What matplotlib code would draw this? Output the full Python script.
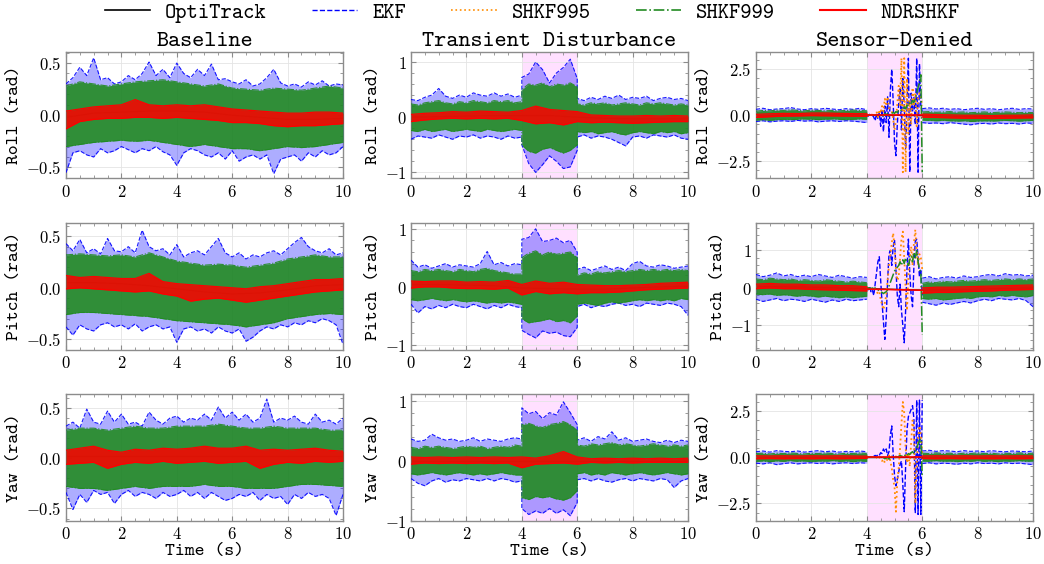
import numpy as np
import matplotlib
matplotlib.use('Agg')
import matplotlib.pyplot as plt
from matplotlib.lines import Line2D
from matplotlib.ticker import FuncFormatter, AutoMinorLocator, FixedLocator

plt.rcParams['mathtext.fontset'] = 'cm'
TT = 'cmtt10'

# ---------------- labels ----------------
col_titles = ['Baseline', 'Transient Disturbance', 'Sensor-Denied']
row_labels = ['Roll (rad)', 'Pitch (rad)', 'Yaw (rad)']
series_names = ['OptiTrack', 'EKF', 'SHKF995', 'SHKF999', 'NDRSHKF']
x_ticks = [0, 2, 4, 6, 8, 10]
event_window = [4, 6]

# ---------------- Baseline (envelopes) ----------------
# EKF envelope every 0.25 s (41), SHKF999 & NDRSHKF every 0.5 s (21), truth every 1 s (11)
br_ekf_hi = [0.30, 0.36, 0.46, 0.38, 0.55, 0.34, 0.36, 0.30, 0.32, 0.38, 0.34, 0.40,
             0.51, 0.38, 0.44, 0.36, 0.50, 0.40, 0.36, 0.44, 0.38, 0.49, 0.34, 0.35,
             0.32, 0.30, 0.34, 0.28, 0.30, 0.36, 0.44, 0.31, 0.28, 0.30, 0.27, 0.32,
             0.29, 0.33, 0.28, 0.30, 0.29]
br_ekf_lo = [-0.55, -0.36, -0.34, -0.38, -0.40, -0.32, -0.36, -0.34, -0.30, -0.33, -0.36, -0.32,
             -0.34, -0.30, -0.35, -0.38, -0.48, -0.36, -0.32, -0.34, -0.38, -0.40, -0.36, -0.42,
             -0.34, -0.44, -0.40, -0.38, -0.42, -0.38, -0.56, -0.42, -0.40, -0.38, -0.44, -0.36,
             -0.40, -0.34, -0.38, -0.36, -0.30]
br_999_hi = [0.28, 0.32, 0.30, 0.28, 0.30, 0.32, 0.33, 0.34, 0.32, 0.30, 0.28,
             0.30, 0.26, 0.25, 0.24, 0.26, 0.25, 0.24, 0.26, 0.28, 0.26]
br_999_lo = [-0.30, -0.28, -0.26, -0.25, -0.24, -0.25, -0.24, -0.26, -0.28, -0.30, -0.28,
             -0.30, -0.32, -0.32, -0.34, -0.32, -0.30, -0.31, -0.30, -0.28, -0.26]
br_nd_hi = [0.04, 0.06, 0.08, 0.09, 0.10, 0.15, 0.10, 0.09, 0.10, 0.09, 0.10,
            0.08, 0.06, 0.05, 0.04, 0.03, 0.02, 0.02, 0.03, 0.03, 0.02]
br_nd_lo = [-0.13, -0.06, -0.04, -0.03, -0.03, -0.02, -0.02, -0.03, -0.02, -0.03, -0.04,
            -0.05, -0.07, -0.07, -0.08, -0.10, -0.11, -0.10, -0.10, -0.09, -0.08]
br_truth = [-0.02, 0.02, 0.03, 0.04, 0.04, 0.03, 0.0, -0.02, -0.04, -0.04, -0.03]

bp_ekf_hi = [0.43, 0.36, 0.47, 0.34, 0.38, 0.33, 0.48, 0.36, 0.35, 0.40, 0.34, 0.56,
             0.40, 0.36, 0.38, 0.32, 0.42, 0.30, 0.34, 0.36, 0.32, 0.40, 0.48, 0.34,
             0.30, 0.34, 0.28, 0.32, 0.30, 0.34, 0.36, 0.32, 0.38, 0.44, 0.49, 0.40,
             0.36, 0.34, 0.38, 0.32, 0.34]
bp_ekf_lo = [-0.38, -0.46, -0.36, -0.40, -0.42, -0.36, -0.34, -0.38, -0.36, -0.40, -0.35, -0.42,
             -0.38, -0.36, -0.40, -0.38, -0.53, -0.40, -0.38, -0.42, -0.40, -0.44, -0.38, -0.42,
             -0.44, -0.40, -0.52, -0.48, -0.42, -0.38, -0.40, -0.36, -0.38, -0.34, -0.36, -0.32,
             -0.34, -0.30, -0.32, -0.36, -0.55]
bp_999_hi = [0.32, 0.33, 0.32, 0.31, 0.32, 0.30, 0.34, 0.30, 0.26, 0.24, 0.22,
             0.23, 0.22, 0.20, 0.22, 0.24, 0.28, 0.30, 0.32, 0.30, 0.30]
bp_999_lo = [-0.26, -0.24, -0.24, -0.25, -0.26, -0.27, -0.28, -0.30, -0.32, -0.33, -0.34,
             -0.35, -0.36, -0.38, -0.36, -0.34, -0.30, -0.28, -0.26, -0.25, -0.26]
bp_nd_hi = [0.12, 0.10, 0.11, 0.10, 0.09, 0.09, 0.14, 0.06, 0.04, 0.03, 0.02,
            0.01, 0.0, -0.01, 0.01, 0.02, 0.04, 0.06, 0.08, 0.08, 0.09]
bp_nd_lo = [-0.01, 0.0, -0.01, -0.02, -0.03, -0.04, -0.03, -0.06, -0.08, -0.13, -0.11,
            -0.10, -0.12, -0.14, -0.12, -0.10, -0.08, -0.06, -0.04, -0.03, -0.02]
bp_truth = [0.05, 0.05, 0.04, 0.02, -0.01, -0.04, -0.06, -0.05, -0.02, 0.02, 0.03]

by_ekf_hi = [0.32, 0.36, 0.30, 0.49, 0.36, 0.34, 0.47, 0.36, 0.44, 0.34, 0.36, 0.32,
             0.46, 0.38, 0.34, 0.40, 0.42, 0.36, 0.40, 0.38, 0.44, 0.38, 0.51, 0.40,
             0.46, 0.38, 0.44, 0.36, 0.40, 0.59, 0.36, 0.40, 0.38, 0.42, 0.36, 0.34,
             0.44, 0.36, 0.38, 0.34, 0.40]
by_ekf_lo = [-0.34, -0.51, -0.36, -0.44, -0.32, -0.36, -0.34, -0.45, -0.36, -0.32, -0.38, -0.34,
             -0.36, -0.40, -0.34, -0.38, -0.36, -0.32, -0.38, -0.34, -0.40, -0.34, -0.38, -0.42,
             -0.40, -0.36, -0.38, -0.34, -0.42, -0.36, -0.40, -0.38, -0.46, -0.36, -0.40, -0.34,
             -0.38, -0.36, -0.40, -0.57, -0.36]
by_999_hi = [0.28, 0.30, 0.30, 0.28, 0.30, 0.32, 0.30, 0.30, 0.32, 0.32, 0.32,
             0.34, 0.32, 0.30, 0.30, 0.32, 0.30, 0.30, 0.30, 0.28, 0.28]
by_999_lo = [-0.28, -0.30, -0.30, -0.32, -0.30, -0.28, -0.30, -0.28, -0.28, -0.28, -0.26,
             -0.28, -0.28, -0.30, -0.30, -0.30, -0.28, -0.26, -0.26, -0.27, -0.28]
by_nd_hi = [0.08, 0.10, 0.12, 0.08, 0.06, 0.09, 0.08, 0.10, 0.09, 0.10, 0.12,
            0.10, 0.10, 0.12, 0.08, 0.09, 0.08, 0.09, 0.10, 0.08, 0.07]
by_nd_lo = [-0.06, -0.05, -0.04, -0.10, -0.06, -0.04, -0.05, -0.03, -0.05, -0.04, -0.03,
            -0.05, -0.04, -0.03, -0.10, -0.06, -0.04, -0.05, -0.03, -0.04, -0.03]
by_truth = [0.02, 0.02, 0.02, 0.02, 0.02, 0.02, 0.02, 0.02, 0.02, 0.02, 0.02]

# ---------------- Transient disturbance ----------------
# EKF / SHKF999 envelopes: 0-4 s (17), 4-6 s (9), 6-10 s (17) every 0.25 s
tr_ekf_hi = [0.32, 0.30, 0.36, 0.40, 0.52, 0.38, 0.34, 0.40, 0.36, 0.44, 0.40, 0.38, 0.44, 0.38, 0.42, 0.36, 0.40,
             0.72, 0.78, 1.00, 0.86, 0.62, 0.80, 0.90, 1.05, 0.70,
             0.34, 0.30, 0.36, 0.32, 0.38, 0.34, 0.40, 0.32, 0.36, 0.34, 0.38, 0.30, 0.34, 0.36, 0.32, 0.34, 0.30]
tr_ekf_lo = [-0.40, -0.34, -0.36, -0.38, -0.32, -0.36, -0.40, -0.34, -0.36, -0.32, -0.38, -0.34, -0.36, -0.40, -0.34, -0.38, -0.36,
             -0.50, -0.84, -1.00, -0.86, -0.70, -0.80, -0.93, -0.90, -0.60,
             -0.36, -0.32, -0.38, -0.34, -0.36, -0.40, -0.46, -0.52, -0.36, -0.34, -0.38, -0.32, -0.34, -0.36, -0.32, -0.38, -0.40]
tr_999_hi = [0.24, 0.22, 0.26, 0.28, 0.30, 0.26, 0.24, 0.28, 0.26, 0.30, 0.28, 0.26, 0.30, 0.28, 0.30, 0.26, 0.28,
             0.50, 0.60, 0.58, 0.62, 0.55, 0.60, 0.58, 0.62, 0.55,
             0.24, 0.22, 0.26, 0.24, 0.26, 0.22, 0.24, 0.26, 0.24, 0.22, 0.26, 0.24, 0.26, 0.24, 0.22, 0.24, 0.22]
tr_999_lo = [-0.24, -0.26, -0.22, -0.26, -0.24, -0.22, -0.26, -0.24, -0.22, -0.24, -0.26, -0.22, -0.24, -0.26, -0.24, -0.22, -0.24,
             -0.50, -0.62, -0.65, -0.58, -0.55, -0.60, -0.65, -0.60, -0.50,
             -0.26, -0.28, -0.26, -0.30, -0.28, -0.26, -0.30, -0.32, -0.28, -0.26, -0.28, -0.30, -0.26, -0.28, -0.26, -0.30, -0.28]
tr_nd_hi = [0.05, 0.07, 0.08, 0.10, 0.09, 0.11, 0.10, 0.09, 0.12, 0.20, 0.14,
            0.12, 0.10, 0.04, 0.03, 0.02, 0.02, 0.03, 0.02, 0.03, 0.02]
tr_nd_lo = [-0.08, -0.05, -0.03, -0.02, -0.03, -0.02, -0.03, -0.02, -0.06, -0.12, -0.10,
            -0.14, -0.08, -0.10, -0.09, -0.10, -0.11, -0.10, -0.09, -0.08, -0.08]
tr_truth = [0.0, 0.01, 0.02, 0.03, 0.03, 0.03, 0.0, -0.02, -0.03, -0.03, -0.03]

tp_ekf_hi = [0.46, 0.34, 0.38, 0.32, 0.36, 0.40, 0.34, 0.38, 0.36, 0.34, 0.40, 0.61, 0.38, 0.42, 0.36, 0.40, 0.38,
             0.82, 0.85, 1.00, 0.78, 0.80, 0.84, 0.76, 0.80, 0.60,
             0.30, 0.34, 0.28, 0.32, 0.36, 0.30, 0.34, 0.28, 0.40, 0.44, 0.36, 0.34, 0.38, 0.36, 0.32, 0.34, 0.36]
tp_ekf_lo = [-0.30, -0.45, -0.34, -0.38, -0.32, -0.36, -0.30, -0.34, -0.36, -0.30, -0.34, -0.38, -0.32, -0.36, -0.30, -0.34, -0.36,
             -0.75, -0.82, -0.88, -0.76, -0.80, -0.78, -0.84, -0.86, -0.70,
             -0.34, -0.30, -0.36, -0.32, -0.34, -0.30, -0.28, -0.32, -0.30, -0.34, -0.28, -0.30, -0.32, -0.28, -0.30, -0.34, -0.49]
tp_999_hi = [0.28, 0.26, 0.30, 0.28, 0.30, 0.28, 0.26, 0.30, 0.28, 0.26, 0.30, 0.32, 0.28, 0.26, 0.24, 0.22, 0.22,
             0.50, 0.58, 0.62, 0.55, 0.60, 0.56, 0.58, 0.60, 0.50,
             0.20, 0.24, 0.22, 0.26, 0.24, 0.26, 0.28, 0.26, 0.28, 0.30, 0.28, 0.30, 0.28, 0.30, 0.28, 0.30, 0.28]
tp_999_lo = [-0.22, -0.24, -0.22, -0.20, -0.22, -0.24, -0.22, -0.24, -0.26, -0.24, -0.26, -0.28, -0.26, -0.28, -0.26, -0.28, -0.30,
             -0.55, -0.62, -0.60, -0.58, -0.55, -0.60, -0.58, -0.62, -0.50,
             -0.30, -0.28, -0.30, -0.32, -0.28, -0.26, -0.28, -0.26, -0.24, -0.22, -0.24, -0.22, -0.24, -0.22, -0.24, -0.20, -0.22]
tp_nd_hi = [0.10, 0.09, 0.10, 0.10, 0.08, 0.09, 0.08, 0.11, 0.04, 0.10, 0.06,
            0.08, 0.04, 0.03, 0.02, 0.02, 0.03, 0.04, 0.06, 0.07, 0.08]
tp_nd_lo = [-0.02, 0.0, 0.0, -0.02, -0.03, -0.03, -0.04, -0.02, -0.14, -0.08, -0.12,
            -0.10, -0.12, -0.10, -0.10, -0.09, -0.07, -0.05, -0.04, -0.03, -0.02]
tp_truth = [0.04, 0.04, 0.03, 0.02, -0.02, -0.03, -0.04, -0.04, -0.02, 0.0, 0.01]

ty_ekf_hi = [0.36, 0.32, 0.34, 0.44, 0.38, 0.34, 0.36, 0.32, 0.34, 0.38, 0.32, 0.36, 0.34, 0.32, 0.36, 0.38, 0.36,
             0.88, 0.78, 0.82, 0.70, 0.80, 0.76, 0.98, 0.80, 0.60,
             0.34, 0.38, 0.32, 0.40, 0.36, 0.48, 0.34, 0.38, 0.32, 0.34, 0.36, 0.32, 0.30, 0.34, 0.30, 0.34, 0.32]
ty_ekf_lo = [-0.30, -0.38, -0.42, -0.34, -0.30, -0.36, -0.32, -0.34, -0.30, -0.32, -0.34, -0.30, -0.34, -0.30, -0.32, -0.36, -0.34,
             -0.80, -0.90, -0.84, -0.88, -0.80, -0.88, -0.82, -0.92, -0.70,
             -0.32, -0.30, -0.34, -0.30, -0.34, -0.36, -0.32, -0.30, -0.34, -0.30, -0.32, -0.34, -0.30, -0.32, -0.45, -0.34, -0.30]
ty_999_hi = [0.22, 0.20, 0.24, 0.22, 0.24, 0.22, 0.20, 0.22, 0.24, 0.22, 0.24, 0.20, 0.22, 0.24, 0.22, 0.26, 0.24,
             0.60, 0.62, 0.58, 0.55, 0.60, 0.62, 0.65, 0.60, 0.50,
             0.26, 0.24, 0.28, 0.26, 0.28, 0.30, 0.26, 0.28, 0.26, 0.24, 0.26, 0.28, 0.26, 0.24, 0.26, 0.24, 0.26]
ty_999_lo = [-0.22, -0.24, -0.22, -0.20, -0.22, -0.24, -0.22, -0.20, -0.22, -0.24, -0.22, -0.24, -0.22, -0.20, -0.22, -0.24, -0.24,
             -0.62, -0.65, -0.60, -0.62, -0.60, -0.64, -0.66, -0.62, -0.50,
             -0.22, -0.20, -0.24, -0.22, -0.24, -0.20, -0.22, -0.24, -0.22, -0.20, -0.22, -0.24, -0.22, -0.20, -0.22, -0.24, -0.22]
ty_nd_hi = [0.06, 0.05, 0.06, 0.05, 0.06, 0.05, 0.06, 0.05, 0.06, 0.04, 0.08,
            0.15, 0.06, 0.03, 0.04, 0.03, 0.04, 0.03, 0.04, 0.03, 0.04]
ty_nd_lo = [-0.06, -0.04, -0.05, -0.04, -0.05, -0.04, -0.05, -0.04, -0.12, -0.06, -0.05,
            -0.04, -0.06, -0.03, -0.04, -0.03, -0.04, -0.03, -0.03, -0.03, -0.03]
ty_truth = [0.0, 0.0, 0.0, 0.0, 0.0, 0.0, 0.0, 0.0, 0.0, 0.0, 0.0]

# ---------------- Sensor-denied ----------------
# envelopes outside the outage: 0-4 s (17) + 6-10 s (17); NDRSHKF 0-4 (9) + 6-10 (9)
# trajectories inside the outage every 0.05 s from 4 to 6 s (41)
sr_ekf_hi = [0.32, 0.38, 0.30, 0.34, 0.36, 0.42, 0.34, 0.30, 0.36, 0.32, 0.38, 0.34, 0.30, 0.36, 0.32, 0.38, 0.30,
             0.36, 0.40, 0.34, 0.38, 0.32, 0.36, 0.30, 0.34, 0.38, 0.32, 0.36, 0.30, 0.34, 0.38, 0.32, 0.36, 0.34]
sr_ekf_lo = [-0.34, -0.30, -0.36, -0.32, -0.30, -0.34, -0.28, -0.32, -0.30, -0.36, -0.32, -0.30, -0.34, -0.30, -0.32, -0.36, -0.40,
             -0.40, -0.44, -0.42, -0.46, -0.40, -0.44, -0.48, -0.52, -0.46, -0.44, -0.48, -0.42, -0.46, -0.44, -0.48, -0.42, -0.44]
sr_999_hi = [0.22, 0.26, 0.24, 0.28, 0.26, 0.30, 0.26, 0.24, 0.28, 0.26, 0.24, 0.26, 0.24, 0.26, 0.28, 0.26, 0.24,
             0.18, 0.20, 0.16, 0.18, 0.20, 0.16, 0.18, 0.14, 0.16, 0.18, 0.14, 0.16, 0.18, 0.16, 0.14, 0.16, 0.14]
sr_999_lo = [-0.26, -0.24, -0.28, -0.24, -0.22, -0.24, -0.22, -0.20, -0.22, -0.24, -0.22, -0.20, -0.22, -0.24, -0.22, -0.20, -0.22,
             -0.26, -0.28, -0.30, -0.28, -0.30, -0.32, -0.30, -0.34, -0.32, -0.30, -0.32, -0.30, -0.28, -0.30, -0.32, -0.30, -0.28]
sr_nd_hi = [0.05, 0.08, 0.10, 0.09, 0.12, 0.12, 0.10, 0.09, 0.08,
            0.06, 0.04, 0.02, 0.0, 0.0, -0.02, 0.0, 0.0, 0.02]
sr_nd_lo = [-0.12, -0.08, -0.05, -0.04, -0.02, -0.03, -0.04, -0.05, -0.06,
            -0.10, -0.12, -0.14, -0.16, -0.16, -0.18, -0.16, -0.15, -0.14]
sr_truth = [-0.05, 0.0, 0.0, 0.05, 0.0, 0.0, -0.02, -0.05, -0.08, -0.08, -0.06]
sr_ekf_ev = [0.0, -0.05, 0.05, -0.05, 0.0, -0.1, -0.3, 0.1, -0.2, 0.15,
             -0.6, 0.3, -0.9, 0.5, -0.4, 1.0, -1.2, 1.4, 2.5, 0.8,
             -1.5, -2.2, -0.5, 0.6, 1.5, -0.8, 2.0, 0.5, -1.8, 0.4,
             3.1, -3.1, 1.2, 0.2, 1.0, -0.5, 3.1, -3.1, 2.8, 0.5, 0.2]
sr_995_ev = [0.0, 0.0, 0.05, 0.0, 0.05, 0.1, 0.0, 0.2, -0.1, 0.3,
             0.1, 0.5, 0.2, 0.9, 0.6, 1.0, 0.4, 0.3, 0.2, -0.2,
             -0.8, -0.3, 0.6, 1.6, 0.5, 3.1, -3.1, 3.1, -3.1, 2.0,
             -1.0, 0.8, -0.5, 1.5, 0.6, 1.2, -0.6, 0.9, 1.2, 1.0, 0.5]
sr_999_ev = [0.0, 0.0, 0.0, 0.0, 0.0, 0.0, 0.0, 0.0, 0.0, 0.0,
             0.0, 0.05, -0.05, 0.1, 0.0, 0.1, -0.05, 0.05, 0.1, 0.15,
             0.1, 0.2, 0.15, 0.25, 0.2, 0.3, 0.3, 0.45, 0.35, 0.55,
             0.5, 0.7, 0.6, 0.8, 0.7, 0.9, 1.2, 1.5, 1.8, 2.2, -3.1]
sr_nd_hold = [0.02, 0.02]

sp_ekf_hi = [0.36, 0.30, 0.34, 0.40, 0.32, 0.36, 0.30, 0.34, 0.30, 0.36, 0.32, 0.28, 0.34, 0.30, 0.26, 0.30, 0.28,
             0.26, 0.30, 0.24, 0.28, 0.30, 0.26, 0.32, 0.28, 0.30, 0.34, 0.36, 0.32, 0.38, 0.34, 0.36, 0.32, 0.34]
sp_ekf_lo = [-0.30, -0.36, -0.32, -0.28, -0.34, -0.30, -0.32, -0.36, -0.30, -0.34, -0.38, -0.32, -0.36, -0.30, -0.34, -0.32, -0.30,
             -0.38, -0.42, -0.46, -0.40, -0.44, -0.40, -0.36, -0.40, -0.34, -0.30, -0.34, -0.28, -0.30, -0.32, -0.28, -0.34, -0.50]
sp_999_hi = [0.24, 0.22, 0.26, 0.24, 0.22, 0.24, 0.20, 0.22, 0.20, 0.18, 0.22, 0.20, 0.18, 0.16, 0.18, 0.16, 0.14,
             0.12, 0.16, 0.14, 0.18, 0.16, 0.18, 0.20, 0.18, 0.20, 0.22, 0.20, 0.22, 0.24, 0.22, 0.24, 0.22, 0.24]
sp_999_lo = [-0.16, -0.18, -0.16, -0.20, -0.18, -0.20, -0.22, -0.20, -0.22, -0.24, -0.22, -0.24, -0.26, -0.24, -0.26, -0.24, -0.22,
             -0.28, -0.30, -0.28, -0.32, -0.30, -0.28, -0.26, -0.28, -0.24, -0.22, -0.24, -0.20, -0.22, -0.20, -0.22, -0.24, -0.20]
sp_nd_hi = [0.10, 0.12, 0.10, 0.10, 0.08, 0.08, 0.06, 0.06, 0.03,
            0.0, 0.02, 0.02, 0.03, 0.04, 0.05, 0.06, 0.07, 0.08]
sp_nd_lo = [-0.02, 0.0, -0.02, -0.02, -0.04, -0.05, -0.06, -0.07, -0.08,
            -0.14, -0.12, -0.12, -0.10, -0.09, -0.08, -0.06, -0.05, -0.04]
sp_truth = [0.04, 0.03, 0.02, 0.0, -0.02, -0.04, -0.06, -0.05, -0.03, -0.01, 0.0]
sp_ekf_ev = [0.0, -0.05, 0.05, -0.1, -0.05, -0.2, 0.1, 0.4, 0.7, 0.83,
             0.2, -0.4, -0.9, -1.37, -0.8, 0.2, 0.9, 1.0, 0.6, 1.1,
             1.28, 0.5, -0.2, -0.5, 0.1, -0.6, -1.0, -1.46, -0.6, 0.5,
             1.3, 0.4, -0.2, -0.5, 0.6, 1.24, 1.3, 0.8, 0.3, 0.5, -0.2]
sp_995_ev = [0.0, 0.0, -0.02, 0.0, -0.05, 0.0, -0.05, -0.1, -0.15, -0.1,
             -0.3, -0.45, -0.58, -0.4, -0.2, 0.2, 0.6, 0.9, 1.2, 1.46,
             1.1, 0.5, 0.2, 0.3, 0.8, 1.3, 1.5, 0.8, 0.0, -0.6,
             0.3, 0.8, 1.1, 0.6, 1.2, 1.55, 1.0, 0.6, 0.9, 0.8, 0.5]
sp_999_ev = [0.0, 0.0, 0.0, -0.02, 0.0, -0.02, 0.0, -0.03, -0.05, -0.08,
             -0.1, -0.12, -0.15, -0.12, -0.1, -0.05, 0.05, 0.15, 0.25, 0.35,
             0.45, 0.5, 0.55, 0.6, 0.7, 0.6, 0.75, 0.65, 0.8, 0.7,
             0.6, 0.75, 0.85, 0.7, 0.95, 0.8, 1.0, 0.7, 0.5, 0.4, -1.25]
sp_nd_hold = [-0.03, -0.06]

sy_ekf_hi = [0.30, 0.34, 0.28, 0.36, 0.32, 0.30, 0.34, 0.28, 0.32, 0.36, 0.30, 0.34, 0.28, 0.32, 0.30, 0.34, 0.30,
             0.34, 0.38, 0.32, 0.36, 0.34, 0.30, 0.36, 0.32, 0.34, 0.30, 0.36, 0.32, 0.30, 0.34, 0.32, 0.30, 0.34]
sy_ekf_lo = [-0.32, -0.36, -0.30, -0.40, -0.34, -0.30, -0.36, -0.32, -0.30, -0.34, -0.30, -0.36, -0.32, -0.30, -0.34, -0.30, -0.32,
             -0.34, -0.30, -0.36, -0.32, -0.34, -0.38, -0.32, -0.36, -0.30, -0.34, -0.32, -0.36, -0.30, -0.34, -0.32, -0.36, -0.40]
sy_999_hi = [0.20, 0.22, 0.18, 0.22, 0.20, 0.24, 0.20, 0.18, 0.22, 0.20, 0.24, 0.20, 0.18, 0.22, 0.20, 0.24, 0.20,
             0.22, 0.20, 0.24, 0.20, 0.22, 0.18, 0.22, 0.20, 0.24, 0.20, 0.22, 0.18, 0.22, 0.20, 0.24, 0.20, 0.22]
sy_999_lo = [-0.22, -0.20, -0.24, -0.20, -0.22, -0.18, -0.22, -0.20, -0.24, -0.20, -0.22, -0.18, -0.22, -0.20, -0.24, -0.20, -0.22,
             -0.20, -0.22, -0.18, -0.22, -0.20, -0.24, -0.20, -0.22, -0.18, -0.22, -0.20, -0.24, -0.20, -0.22, -0.18, -0.22, -0.20]
sy_nd_hi = [0.08, 0.07, 0.08, 0.07, 0.08, 0.07, 0.08, 0.07, 0.06,
            0.07, 0.08, 0.07, 0.08, 0.07, 0.08, 0.07, 0.08, 0.07]
sy_nd_lo = [-0.08, -0.07, -0.08, -0.07, -0.08, -0.07, -0.08, -0.07, -0.06,
            -0.07, -0.08, -0.07, -0.08, -0.07, -0.08, -0.07, -0.08, -0.07]
sy_truth = [0.0, 0.0, 0.0, 0.0, 0.0, 0.0, 0.0, 0.0, 0.0, 0.0, 0.0]
sy_ekf_ev = [0.0, 0.02, 0.0, 0.02, 0.0, 0.05, 0.1, 0.05, 0.15, 0.1,
             0.25, 0.2, 0.45, 0.3, 0.45, 0.1, 0.3, 1.2, 1.7, 0.2,
             -1.0, -1.55, -1.2, -0.8, -0.4, -0.2, -1.5, -2.95, -0.5, 1.5,
             2.2, 2.4, 2.6, 2.8, 2.1, -3.0, 3.1, -3.1, 3.1, -3.1, 3.1]
sy_995_ev = [0.0, 0.0, 0.02, 0.0, 0.02, 0.0, -0.05, 0.0, -0.1, 0.0,
             -0.1, -0.2, -0.1, -0.3, -0.2, -0.1, 0.1, -0.2, -0.6, -1.2,
             -1.6, -2.95, -1.3, -0.6, 0.5, 1.8, 3.0, 2.4, 0.5, -0.3,
             0.2, -0.5, 0.8, 2.0, 1.5, -2.5, -0.5, 1.0, 1.7, 1.2, 0.2]
sy_999_ev = [0.0, 0.0, 0.0, 0.0, 0.0, 0.0, 0.0, 0.0, 0.0, 0.0,
             0.0, -0.05, 0.0, -0.08, -0.05, 0.0, -0.1, -0.05, 0.05, 0.0,
             -0.05, 0.05, 0.0, 0.05, 0.1, 0.05, 0.1, 0.05, 0.15, 0.1,
             0.2, 0.15, 0.25, 0.3, 0.2, 0.35, 0.5, 0.7, 0.9, 1.0, -1.0]
sy_nd_hold = [0.0, 0.0]

# axis limits / ticks per panel (rows x cols)
ylims = [[(-0.606, 0.606), (-1.11, 1.18), (-3.44, 3.44)],
         [(-0.60, 0.63), (-1.08, 1.10), (-1.64, 1.73)],
         [(-0.62, 0.64), (-1.0, 1.11), (-3.43, 3.43)]]
yticks = [[[-0.5, 0.0, 0.5], [-1, 0, 1], [-2.5, 0.0, 2.5]],
          [[-0.5, 0.0, 0.5], [-1, 0, 1], [-1, 0, 1]],
          [[-0.5, 0.0, 0.5], [-1, 0, 1], [-2.5, 0.0, 2.5]]]
ydec = [[1, 0, 1], [1, 0, 0], [1, 0, 1]]

# ---------------- styling ----------------
C_TRUE, C_EKF, C_995, C_999, C_ND = 'black', 'blue', 'darkorange', 'forestgreen', 'red'
SPINE = '#8c8c8c'

t41 = np.linspace(0, 10, 41)
t21 = np.linspace(0, 10, 21)
t11 = np.linspace(0, 10, 11)
t43 = np.concatenate([np.linspace(0, 4, 17), np.linspace(4, 6, 9), np.linspace(6, 10, 17)])
tA17, tC17 = np.linspace(0, 4, 17), np.linspace(6, 10, 17)
tA9, tC9 = np.linspace(0, 4, 9), np.linspace(6, 10, 9)
t_ev = np.linspace(4, 6, 41)


def envelope(ax, t, lo, hi, color, alpha, z, ls, ealpha):
    ax.fill_between(t, lo, hi, color=color, alpha=alpha, lw=0, zorder=z)
    ax.plot(t, hi, color=color, lw=0.8, ls=ls, zorder=z, alpha=ealpha)
    ax.plot(t, lo, color=color, lw=0.8, ls=ls, zorder=z, alpha=ealpha)


def red_band(ax, t, lo, hi):
    ax.fill_between(t, lo, hi, color=C_ND, alpha=0.85, lw=0, zorder=6)
    ax.plot(t, hi, color=C_ND, lw=0.9, zorder=6)
    ax.plot(t, lo, color=C_ND, lw=0.9, zorder=6)


def dense_panel(ax, tt, ekf_hi, ekf_lo, t9, s_hi, s_lo, nd_hi, nd_lo, truth):
    ax.plot(t11, truth, color=C_TRUE, lw=1.0, zorder=2)
    envelope(ax, tt, ekf_lo, ekf_hi, C_EKF, 0.32, 3, '--', 0.9)
    envelope(ax, t9, s_lo, s_hi, C_999, 0.9, 4, '-.', 0.9)
    red_band(ax, t21, nd_lo, nd_hi)


def sd_panel(ax, ekf_hi, ekf_lo, s_hi, s_lo, nd_hi, nd_lo, truth, ekf_ev, k995_ev, k999_ev, hold):
    ax.plot(t11, truth, color=C_TRUE, lw=1.0, zorder=2)
    for sl, tt in ((slice(0, 17), tA17), (slice(17, 34), tC17)):
        envelope(ax, tt, ekf_lo[sl], ekf_hi[sl], C_EKF, 0.32, 3, '--', 0.9)
        envelope(ax, tt, s_lo[sl], s_hi[sl], C_999, 0.9, 4, '-.', 0.9)
    for sl, tt in ((slice(0, 9), tA9), (slice(9, 18), tC9)):
        red_band(ax, tt, nd_lo[sl], nd_hi[sl])
    ax.plot(t_ev, ekf_ev, color=C_EKF, ls='--', lw=1.0, zorder=3)
    ax.plot(t_ev, k995_ev, color=C_995, ls=':', lw=1.3, zorder=3.5)
    ax.plot(t_ev, k999_ev, color=C_999, ls='-.', lw=1.1, zorder=4)
    ax.plot(event_window, hold, color=C_ND, lw=1.2, zorder=6)


fig, axes = plt.subplots(3, 3, figsize=(10.44, 5.64), dpi=100)
fig.subplots_adjust(left=0.0632, right=0.9895, top=0.9078, bottom=0.0771,
                    wspace=0.2455, hspace=0.352)

dense_panel(axes[0, 0], t41, br_ekf_hi, br_ekf_lo, t21, br_999_hi, br_999_lo, br_nd_hi, br_nd_lo, br_truth)
dense_panel(axes[1, 0], t41, bp_ekf_hi, bp_ekf_lo, t21, bp_999_hi, bp_999_lo, bp_nd_hi, bp_nd_lo, bp_truth)
dense_panel(axes[2, 0], t41, by_ekf_hi, by_ekf_lo, t21, by_999_hi, by_999_lo, by_nd_hi, by_nd_lo, by_truth)
dense_panel(axes[0, 1], t43, tr_ekf_hi, tr_ekf_lo, t43, tr_999_hi, tr_999_lo, tr_nd_hi, tr_nd_lo, tr_truth)
dense_panel(axes[1, 1], t43, tp_ekf_hi, tp_ekf_lo, t43, tp_999_hi, tp_999_lo, tp_nd_hi, tp_nd_lo, tp_truth)
dense_panel(axes[2, 1], t43, ty_ekf_hi, ty_ekf_lo, t43, ty_999_hi, ty_999_lo, ty_nd_hi, ty_nd_lo, ty_truth)
sd_panel(axes[0, 2], sr_ekf_hi, sr_ekf_lo, sr_999_hi, sr_999_lo, sr_nd_hi, sr_nd_lo, sr_truth,
         sr_ekf_ev, sr_995_ev, sr_999_ev, sr_nd_hold)
sd_panel(axes[1, 2], sp_ekf_hi, sp_ekf_lo, sp_999_hi, sp_999_lo, sp_nd_hi, sp_nd_lo, sp_truth,
         sp_ekf_ev, sp_995_ev, sp_999_ev, sp_nd_hold)
sd_panel(axes[2, 2], sy_ekf_hi, sy_ekf_lo, sy_999_hi, sy_999_lo, sy_nd_hi, sy_nd_lo, sy_truth,
         sy_ekf_ev, sy_995_ev, sy_999_ev, sy_nd_hold)


def mfmt(dec):
    def f(v, pos):
        if abs(v) < 1e-12:
            v = 0.0
        return '$' + ('%.*f' % (dec, v)) + '$'
    return FuncFormatter(f)


for r in range(3):
    for c in range(3):
        ax = axes[r, c]
        if c > 0:
            ax.axvspan(event_window[0], event_window[1], color='magenta', alpha=0.12, lw=0, zorder=0)
        ax.set_xlim(0, 10)
        ax.set_ylim(*ylims[r][c])
        ax.xaxis.set_major_locator(FixedLocator(x_ticks))
        ax.yaxis.set_major_locator(FixedLocator(yticks[r][c]))
        ax.xaxis.set_minor_locator(AutoMinorLocator(4))
        ax.yaxis.set_minor_locator(AutoMinorLocator(5))
        ax.xaxis.set_major_formatter(mfmt(0))
        ax.yaxis.set_major_formatter(mfmt(ydec[r][c]))
        ax.grid(True, which='major', color='#e4e4e4', lw=0.6, zorder=0.5)
        ax.set_axisbelow(True)
        for s in ax.spines.values():
            s.set_color(SPINE)
            s.set_linewidth(1.0)
        ax.tick_params(which='both', direction='in', top=True, right=True, color=SPINE,
                       labelsize=12, pad=3)
        ax.tick_params(which='major', length=3.5, width=0.8)
        ax.tick_params(which='minor', length=2, width=0.6)
        ax.set_ylabel(row_labels[r], fontfamily=TT, fontsize=13.5, labelpad=3)
        if r == 0:
            ax.set_title(col_titles[c], fontfamily=TT, fontsize=16.6, pad=4)
        if r == 2:
            ax.set_xlabel('Time (s)', fontfamily=TT, fontsize=13.5, labelpad=1)

handles = [Line2D([], [], color=C_TRUE, lw=1.2),
           Line2D([], [], color=C_EKF, lw=1.0, ls='--'),
           Line2D([], [], color=C_995, lw=1.2, ls=':'),
           Line2D([], [], color=C_999, lw=1.2, ls='-.'),
           Line2D([], [], color=C_ND, lw=1.5)]
fig.legend(handles, series_names, loc='center', bbox_to_anchor=(0.51, 0.977), ncol=5,
           frameon=False, prop={'family': TT, 'size': 15.5}, handlelength=2.1,
           handletextpad=0.7, columnspacing=2.1, borderpad=0.1)

fig.savefig('out.png', dpi=100)
